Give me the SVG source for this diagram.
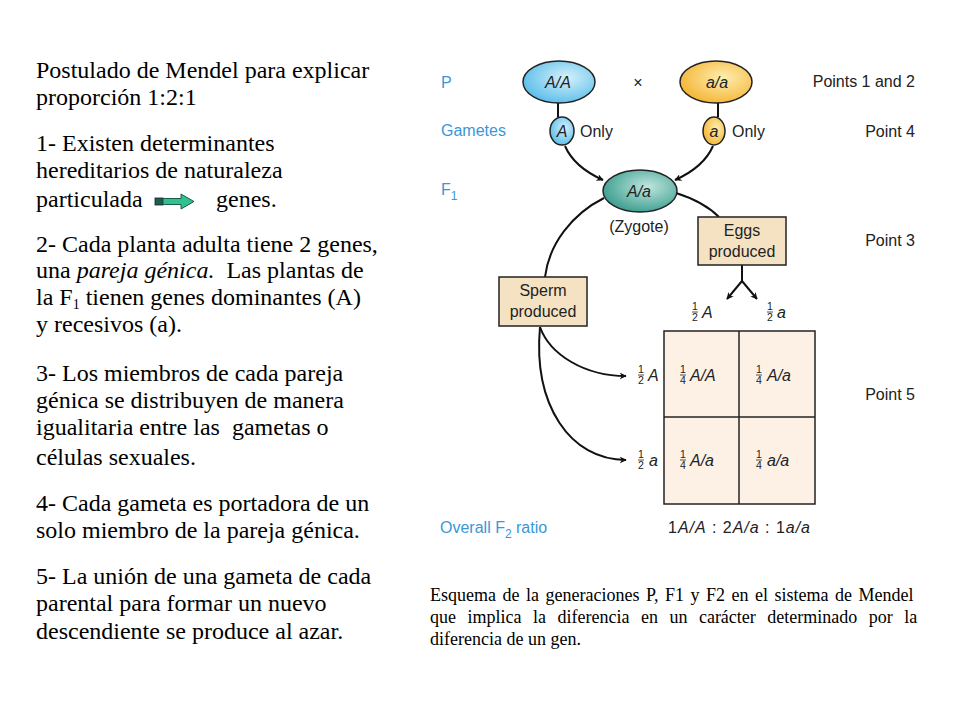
<svg xmlns="http://www.w3.org/2000/svg" width="960" height="720" viewBox="0 0 960 720">
<defs>
<style>
.lt{font-family:"Liberation Serif","Times New Roman",serif;font-size:24px;fill:#000}
.cap{font-family:"Liberation Serif","Times New Roman",serif;font-size:18px;fill:#000}
.lbl{font-family:"Liberation Sans",Arial,sans-serif;font-size:16px;fill:#3a97d6}
.pt{font-family:"Liberation Sans",Arial,sans-serif;font-size:16px;fill:#222;text-anchor:end}
.t{font-family:"Liberation Sans",Arial,sans-serif;font-size:16px;fill:#222}
.it{font-family:"Liberation Sans",Arial,sans-serif;font-size:16px;font-style:italic;fill:#222}
.fr{font-family:"Liberation Sans",Arial,sans-serif;font-size:10.5px;fill:#222;text-anchor:middle}
.c{text-anchor:middle}
.ln{fill:none;stroke:#111;stroke-width:2}
.box{fill:#f5e2c2;stroke:#222;stroke-width:1.5}
.fb{stroke:#222;stroke-width:0.8}
</style>
<radialGradient id="gb" cx="0.6" cy="0.4" r="0.7"><stop offset="0" stop-color="#d6f1fb"/><stop offset="1" stop-color="#4fb9e8"/></radialGradient>
<radialGradient id="gy" cx="0.6" cy="0.4" r="0.7"><stop offset="0" stop-color="#fdeeb0"/><stop offset="1" stop-color="#f4b02a"/></radialGradient>
<radialGradient id="gt" cx="0.6" cy="0.4" r="0.7"><stop offset="0" stop-color="#c0e6df"/><stop offset="1" stop-color="#2f9787"/></radialGradient>
<marker id="ah" viewBox="0 0 10 10" refX="9" refY="5" markerWidth="7" markerHeight="7" orient="auto" markerUnits="userSpaceOnUse">
<path d="M0,0 L10,5 L0,10 L3,5 Z" fill="#111"/>
</marker>
</defs>
<rect width="960" height="720" fill="#fff"/>

<g id="left-text">
<text class="lt" x="36" y="78">Postulado de Mendel para explicar</text>
<text class="lt" x="36" y="105">proporción 1:2:1</text>
<text class="lt" x="36" y="151">1- Existen determinantes</text>
<text class="lt" x="36" y="178">hereditarios de naturaleza</text>
<text class="lt" x="36" y="207">particulada</text>
<text class="lt" x="216" y="207">genes.</text>
<text class="lt" x="36" y="252">2- Cada planta adulta tiene 2 genes,</text>
<text class="lt" x="36" y="278">una <tspan font-style="italic">pareja génica.</tspan>&#160;&#160;Las plantas de</text>
<text class="lt" x="36" y="305">la F<tspan font-size="14" dy="4">1</tspan><tspan dy="-4"> tienen genes dominantes (A)</tspan></text>
<text class="lt" x="36" y="332">y recesivos (a).</text>
<text class="lt" x="36" y="381">3- Los miembros de cada pareja</text>
<text class="lt" x="36" y="408">génica se distribuyen de manera</text>
<text class="lt" x="36" y="435">igualitaria entre las&#160;&#160;gametas o</text>
<text class="lt" x="36" y="465">células sexuales.</text>
<text class="lt" x="36" y="511">4- Cada gameta es portadora de un</text>
<text class="lt" x="36" y="538">solo miembro de la pareja génica.</text>
<text class="lt" x="36" y="584">5- La unión de una gameta de cada</text>
<text class="lt" x="36" y="611">parental para formar un nuevo</text>
<text class="lt" x="36" y="639">descendiente se produce al azar.</text>
</g>

<g id="green-arrow">
<rect x="155" y="198" width="8" height="7" fill="#1f5e4a" stroke="#123" stroke-width="0.8"/>
<path d="M163,198.5 L181,198.5 L181,194 L194,201.5 L181,209 L181,204.5 L163,204.5 Z" fill="#2fc28f" stroke="#1d5c48" stroke-width="1"/>
</g>

<g id="row-labels">
<text class="lbl" x="441" y="88">P</text>
<text class="lbl" x="441" y="136">Gametes</text>
<text class="lbl" x="441" y="195">F<tspan font-size="12" dy="5">1</tspan></text>
<text class="lbl" x="440" y="533">Overall F<tspan font-size="12" dy="5">2</tspan><tspan dy="-5"> ratio</tspan></text>
</g>

<g id="point-labels">
<text class="pt" x="915" y="87">Points 1 and 2</text>
<text class="pt" x="915" y="137">Point 4</text>
<text class="pt" x="915" y="246">Point 3</text>
<text class="pt" x="915" y="400">Point 5</text>
</g>

<g id="connectors">
<line class="ln" x1="558" y1="103" x2="558" y2="117" stroke-width="1.5"/>
<line class="ln" x1="718" y1="103" x2="718" y2="117" stroke-width="1.5"/>
<path class="ln" d="M565,146 C572,162 585,172 603,180" marker-end="url(#ah)"/>
<path class="ln" d="M713,146 C706,162 693,172 675,180" marker-end="url(#ah)"/>
<path class="ln" d="M604,198 C572,214 549,244 545,277"/>
<path class="ln" d="M676,193 C695,199 709,207 719,217"/>
<path class="ln" d="M742,265 L742,281"/>
<path class="ln" d="M742,281 L727,299" marker-end="url(#ah)"/>
<path class="ln" d="M742,281 L757,299" marker-end="url(#ah)"/>
<path class="ln" d="M540,327 C550,355 585,376 626,376" marker-end="url(#ah)"/>
<path class="ln" d="M540,327 C533,405 570,460 626,460" marker-end="url(#ah)"/>
</g>

<g id="node-AA">
<ellipse cx="559" cy="82" rx="36" ry="21" fill="url(#gb)" stroke="#222" stroke-width="1.5"/>
<text class="it c" x="558" y="88" font-size="17">A/A</text>
</g>
<text class="t c" x="638" y="88" font-size="19" fill="#555">×</text>
<g id="node-aa">
<ellipse cx="716" cy="82" rx="36" ry="21" fill="url(#gy)" stroke="#222" stroke-width="1.5"/>
<text class="it c" x="717" y="88" font-size="17">a/a</text>
</g>
<g id="gamete-A">
<ellipse cx="562" cy="131" rx="12" ry="14" fill="url(#gb)" stroke="#222" stroke-width="1.5"/>
<text class="it c" x="562" y="137">A</text>
<text class="t" x="580" y="137">Only</text>
</g>
<g id="gamete-a">
<ellipse cx="714" cy="131" rx="11" ry="14" fill="url(#gy)" stroke="#222" stroke-width="1.5"/>
<text class="it c" x="714" y="137">a</text>
<text class="t" x="732" y="137">Only</text>
</g>
<g id="node-zygote">
<ellipse cx="640" cy="191" rx="37" ry="21" fill="url(#gt)" stroke="#222" stroke-width="1.5"/>
<text class="it c" x="639" y="197" font-size="17">A/a</text>
<text class="t c" x="639" y="232">(Zygote)</text>
</g>
<g id="node-eggs">
<rect class="box" x="698" y="217" width="88" height="48"/>
<text class="t c" x="742" y="236">Eggs</text>
<text class="t c" x="742" y="257">produced</text>
</g>
<g id="node-sperm">
<rect class="box" x="499" y="277" width="88" height="49"/>
<text class="t c" x="543" y="296">Sperm</text>
<text class="t c" x="543" y="317">produced</text>
</g>

<g id="egg-gametes">
<text class="fr" x="695" y="310">1</text><line class="fb" x1="692" y1="312" x2="698" y2="312"/><text class="fr" x="695" y="321">2</text>
<text class="it" x="702" y="318">A</text>
<text class="fr" x="770" y="310">1</text><line class="fb" x1="767" y1="312" x2="773" y2="312"/><text class="fr" x="770" y="321">2</text>
<text class="it" x="777" y="318">a</text>
</g>
<g id="sperm-gametes">
<text class="fr" x="641" y="373">1</text><line class="fb" x1="638" y1="375" x2="644" y2="375"/><text class="fr" x="641" y="384">2</text>
<text class="it" x="648" y="381">A</text>
<text class="fr" x="641" y="458">1</text><line class="fb" x1="638" y1="460" x2="644" y2="460"/><text class="fr" x="641" y="469">2</text>
<text class="it" x="649" y="466">a</text>
</g>

<g id="punnett">
<rect x="664" y="331" width="151" height="173" fill="#fdf1e6" stroke="#222" stroke-width="1.5"/>
<line x1="739" y1="331" x2="739" y2="504" stroke="#222" stroke-width="1.5"/>
<line x1="664" y1="417" x2="815" y2="417" stroke="#222" stroke-width="1.5"/>
<text class="fr" x="683" y="373">1</text><line class="fb" x1="680" y1="375" x2="686" y2="375"/><text class="fr" x="683" y="384">4</text>
<text class="it" x="690" y="381">A/A</text>
<text class="fr" x="759" y="373">1</text><line class="fb" x1="756" y1="375" x2="762" y2="375"/><text class="fr" x="759" y="384">4</text>
<text class="it" x="767" y="381">A/a</text>
<text class="fr" x="683" y="458">1</text><line class="fb" x1="680" y1="460" x2="686" y2="460"/><text class="fr" x="683" y="469">4</text>
<text class="it" x="690" y="466">A/a</text>
<text class="fr" x="759" y="458">1</text><line class="fb" x1="756" y1="460" x2="762" y2="460"/><text class="fr" x="759" y="469">4</text>
<text class="it" x="767" y="466">a/a</text>
</g>
<text class="t" x="668" y="533" font-size="17" textLength="142" lengthAdjust="spacing">1<tspan font-style="italic">A/A</tspan> : 2<tspan font-style="italic">A/a</tspan> : 1<tspan font-style="italic">a/a</tspan></text>

<g id="caption">
<text class="cap" x="430" y="601" word-spacing="2">Esquema de la generaciones P, F1 y F2 en el sistema de Mendel</text>
<text class="cap" x="430" y="623" word-spacing="7">que implica la diferencia en un carácter determinado por la</text>
<text class="cap" x="430" y="645">diferencia de un gen.</text>
</g>
</svg>
